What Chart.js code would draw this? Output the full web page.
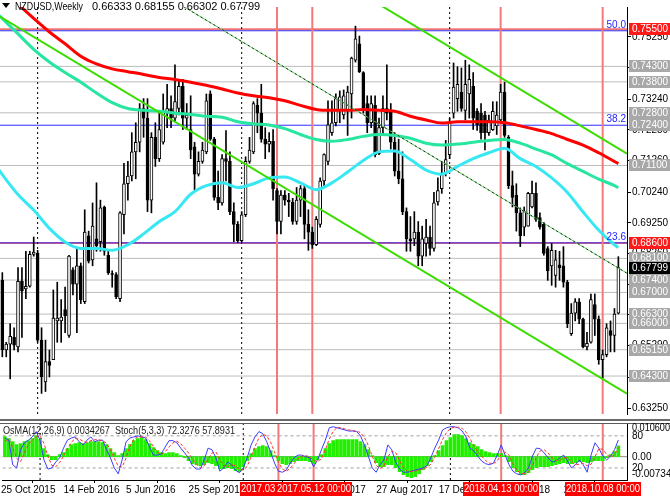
<!DOCTYPE html>
<html>
<head>
<meta charset="utf-8">
<script src="https://cdn.jsdelivr.net/npm/chart.js@4.4.1/dist/chart.umd.min.js"></script>
<style>
  html, body { margin: 0; padding: 0; background: #fff; }
  #wrap { position: relative; width: 670px; height: 498px; overflow: hidden; }
  canvas { position: absolute; left: 0; }
  #main { top: 0; }
  #osc { top: 421px; }
</style>
</head>
<body>
<div id="wrap">
  <canvas id="main" width="670" height="421"></canvas>
  <canvas id="osc" width="670" height="77"></canvas>
</div>
<script>
// NZDUSD weekly candles, week 1 = 1 Nov 2015 ... week 158 = 4 Nov 2018
const open = [0.6739,0.6514,0.6533,0.6555,0.6524,0.6736,0.6711,0.6720,0.6823,0.6826,
  0.6546,0.6411,0.6477,0.6483,0.6608,0.6608,0.6645,0.6561,0.6773,0.6727,
  0.6786,0.6670,0.6883,0.6805,0.6873,0.6864,0.6976,0.6820,0.6761,0.6758,
  0.6680,0.6951,0.7051,0.7076,0.7154,0.7185,0.7294,0.7263,0.6998,0.7201,
  0.7132,0.7185,0.7279,0.7294,0.7263,0.7294,0.7366,0.7263,0.7226,0.7170,
  0.7082,0.7123,0.7154,0.7341,0.7195,0.7007,0.6989,0.7132,0.7123,0.6961,
  0.6920,0.6867,0.6951,0.7123,0.7154,0.7304,0.7279,0.7195,0.7179,0.7188,
  0.7029,0.6929,0.7014,0.6998,0.6992,0.6929,0.6998,0.7035,0.6920,0.6895,
  0.6854,0.6920,0.7060,0.7123,0.7216,0.7248,0.7288,0.7273,0.7285,0.7341,
  0.7450,0.7503,0.7410,0.7310,0.7248,0.7304,0.7148,0.7232,0.7294,0.7285,
  0.7185,0.7092,0.7067,0.6961,0.6873,0.6873,0.6895,0.6817,0.6858,0.6879,
  0.6842,0.6992,0.7035,0.7085,0.7145,0.7279,0.7326,0.7347,0.7288,0.7341,
  0.7366,0.7285,0.7279,0.7273,0.7216,0.7226,0.7238,0.7257,0.7347,0.7201,
  0.7045,0.7014,0.6957,0.6911,0.6914,0.6976,0.7020,0.6942,0.6920,0.6842,
  0.6786,0.6755,0.6789,0.6786,0.6733,0.6567,0.6633,0.6670,0.6614,0.6524,
  0.6539,0.6661,0.6614,0.6483,0.6499,0.6577,0.6561,0.66333];
const high = [0.6764,0.6539,0.6599,0.6586,0.6780,0.6780,0.6833,0.6833,0.6879,0.6836,
  0.6586,0.6546,0.6514,0.6708,0.6733,0.6677,0.6717,0.6820,0.6780,0.6842,
  0.6795,0.6967,0.6898,0.6989,0.7054,0.6998,0.6979,0.6833,0.6770,0.6764,
  0.6961,0.7117,0.7123,0.7216,0.7248,0.7310,0.7326,0.7326,0.7216,0.7248,
  0.7279,0.7341,0.7372,0.7335,0.7435,0.7388,0.7388,0.7310,0.7335,0.7185,
  0.7154,0.7185,0.7341,0.7351,0.7201,0.7092,0.7145,0.7223,0.7154,0.6989,
  0.6929,0.6961,0.7138,0.7201,0.7316,0.7326,0.7372,0.7232,0.7216,0.7226,
  0.7035,0.7029,0.7029,0.7020,0.7004,0.7039,0.7045,0.7045,0.6967,0.6911,
  0.6945,0.7070,0.7148,0.7319,0.7319,0.7341,0.7351,0.7354,0.7366,0.7460,
  0.7560,0.7528,0.7413,0.7335,0.7335,0.7335,0.7263,0.7335,0.7435,0.7310,
  0.7216,0.7195,0.7154,0.6973,0.6945,0.6961,0.6929,0.6914,0.6936,0.6914,
  0.7023,0.7070,0.7123,0.7191,0.7263,0.7441,0.7429,0.7425,0.7450,0.7435,
  0.7410,0.7294,0.7310,0.7285,0.7273,0.7316,0.7316,0.7372,0.7379,0.7207,
  0.7092,0.7051,0.6973,0.6976,0.7023,0.7060,0.7054,0.6957,0.6926,0.6848,
  0.6858,0.6836,0.6833,0.6848,0.6739,0.6664,0.6680,0.6680,0.6617,0.6571,
  0.6695,0.6695,0.6624,0.6514,0.6599,0.6608,0.6648,0.68155];
const low = [0.6492,0.6492,0.6421,0.6514,0.6508,0.6555,0.6680,0.6717,0.6817,0.6539,
  0.6374,0.6380,0.6427,0.6483,0.6539,0.6539,0.6570,0.6555,0.6692,0.6570,
  0.6664,0.6664,0.6795,0.6786,0.6833,0.6833,0.6820,0.6758,0.6717,0.6680,
  0.6670,0.6889,0.6998,0.7060,0.7067,0.7154,0.7201,0.6961,0.6957,0.7107,
  0.7123,0.7179,0.7232,0.7232,0.7254,0.7273,0.7226,0.7226,0.7132,0.7029,
  0.7076,0.7117,0.7148,0.7191,0.6998,0.6967,0.6982,0.7060,0.6951,0.6864,
  0.6861,0.6864,0.6945,0.7117,0.7148,0.7216,0.7185,0.7132,0.7154,0.6998,
  0.6889,0.6889,0.6982,0.6945,0.6920,0.6920,0.6945,0.6873,0.6836,0.6842,
  0.6851,0.6911,0.7039,0.7113,0.7207,0.7238,0.7248,0.7260,0.7207,0.7263,
  0.7444,0.7410,0.7279,0.7216,0.7232,0.7138,0.7145,0.7207,0.7257,0.7163,
  0.7076,0.7051,0.6951,0.6833,0.6833,0.6851,0.6786,0.6786,0.6817,0.6820,
  0.6833,0.6982,0.7020,0.7076,0.7132,0.7263,0.7285,0.7285,0.7257,0.7263,
  0.7226,0.7223,0.7195,0.7160,0.7207,0.7223,0.7210,0.7254,0.7201,0.7035,
  0.6976,0.6898,0.6848,0.6883,0.6914,0.6973,0.6929,0.6904,0.6820,0.6739,
  0.6723,0.6717,0.6739,0.6717,0.6586,0.6561,0.6608,0.6599,0.6521,0.6514,
  0.6536,0.6561,0.6468,0.6424,0.6492,0.6508,0.6508,0.66302];
const close = [0.6514,0.6533,0.6558,0.6530,0.6736,0.6705,0.6720,0.6823,0.6830,0.6546,
  0.6427,0.6477,0.6464,0.6617,0.6617,0.6620,0.6624,0.6817,0.6727,0.6786,
  0.6677,0.6895,0.6801,0.6914,0.6851,0.6973,0.6833,0.6764,0.6758,0.6686,
  0.6957,0.7051,0.7076,0.7154,0.7185,0.7294,0.7263,0.6998,0.7201,0.7132,
  0.7226,0.7285,0.7294,0.7263,0.7316,0.7366,0.7263,0.7273,0.7160,0.7082,
  0.7123,0.7160,0.7319,0.7195,0.7007,0.6989,0.7132,0.7123,0.6961,0.6920,
  0.6867,0.6951,0.7123,0.7160,0.7310,0.7279,0.7195,0.7179,0.7188,0.7035,
  0.6929,0.7014,0.6998,0.6992,0.6929,0.6998,0.7035,0.6920,0.6895,0.6854,
  0.6936,0.7060,0.7145,0.7241,0.7248,0.7326,0.7332,0.7335,0.7347,0.7457,
  0.7519,0.7413,0.7288,0.7248,0.7310,0.7145,0.7232,0.7294,0.7279,0.7185,
  0.7092,0.7067,0.6961,0.6873,0.6867,0.6895,0.6817,0.6873,0.6879,0.6842,
  0.6989,0.7029,0.7085,0.7129,0.7248,0.7363,0.7372,0.7294,0.7372,0.7388,
  0.7263,0.7241,0.7216,0.7216,0.7257,0.7285,0.7273,0.7347,0.7207,0.7045,
  0.7007,0.6957,0.6883,0.6961,0.7020,0.7020,0.6936,0.6911,0.6826,0.6770,
  0.6836,0.6805,0.6780,0.6733,0.6599,0.6633,0.6670,0.6614,0.6524,0.6536,
  0.6677,0.6614,0.6483,0.6499,0.6586,0.6561,0.6630,0.67799];

// moving averages at these weeks
const maWeeks = [0,5,9,13,17,21,25,29,33,37,41,45,49,53,57,61,65,69,73,77,81,85,89,93,97,
  101,105,109,113,117,121,125,129,133,137,141,145,149,153,157,158];
const maRed = [0.7691,0.7631,0.7585,0.7541,0.7503,0.7463,0.7438,0.7422,0.7413,0.7404,0.7394,
  0.7388,0.7379,0.7369,0.7357,0.7344,0.7335,0.7329,0.7319,0.7304,0.7291,0.7288,0.7288,0.7291,
  0.7288,0.7285,0.7269,0.7257,0.7247,0.7251,0.7251,0.7251,0.7248,0.7238,0.7226,0.7213,0.7194,
  0.7176,0.7151,0.7123,0.7116];
const maTeal = [0.7597,0.7535,0.7485,0.7444,0.7410,0.7379,0.7344,0.7313,0.7294,0.7288,0.7285,
  0.7279,0.7275,0.7269,0.7266,0.7251,0.7244,0.7241,0.7229,0.7210,0.7194,0.7188,0.7194,0.7204,
  0.7210,0.7207,0.7198,0.7182,0.7176,0.7179,0.7185,0.7191,0.7194,0.7182,0.7163,0.7144,0.7116,
  0.7091,0.7066,0.7045,0.7038];
const maCyan = [0.7097,0.7016,0.6966,0.6907,0.6863,0.6842,0.6842,0.6836,0.6854,0.6889,0.6929,
  0.6961,0.7017,0.7045,0.7054,0.7039,0.7051,0.7070,0.7073,0.7054,0.7032,0.7054,0.7089,0.7126,
  0.7154,0.7157,0.7129,0.7095,0.7082,0.7107,0.7132,0.7151,0.7166,0.7132,0.7107,0.7070,0.7023,
  0.6960,0.6901,0.6854,0.6845];

// OsMA(12,26,9) and Stoch(5,3,3)
const osma = [0.0063,0.00567,0.00473,0.00378,0.0041,0.00473,0.00504,0.00567,0.00662,0.00536,
  0.00252,0.00063,-0.00095,-0.00095,0.00063,0.00126,0.00252,0.00378,0.0041,0.00441,
  0.0041,0.00441,0.00473,0.00473,0.00473,0.00441,0.00378,0.00252,0.00126,0.00032,
  0.00095,0.00252,0.00378,0.00504,0.00567,0.00599,0.00536,0.0041,0.00284,0.00189,
  0.00126,0.00095,0.00126,0.00126,0.00095,0.00032,-0.00032,-0.00126,-0.00221,-0.00252,
  -0.00284,-0.00252,-0.00189,-0.00221,-0.00284,-0.00378,-0.00378,-0.00347,-0.00378,-0.00441,
  -0.00473,-0.00315,-0.00126,0.00095,0.00252,0.00315,0.00347,0.00315,0.00189,0.00032,
  -0.00126,-0.00221,-0.00252,-0.00221,-0.00158,-0.00126,-0.00126,-0.00126,-0.00158,-0.00221,
  -0.00095,0.00063,0.00252,0.0041,0.00504,0.00536,0.00536,0.00536,0.00536,0.00536,
  0.00536,0.00473,0.00378,0.00221,0.00032,-0.00189,-0.00315,-0.00315,-0.00252,-0.00252,
  -0.00347,-0.00473,-0.00567,-0.0063,-0.00662,-0.0063,-0.00536,-0.0041,-0.00284,-0.00158,
  0.00032,0.00189,0.00347,0.00504,0.00599,0.00693,0.00693,0.00662,0.00567,0.00441,
  0.00378,0.00315,0.00221,0.00158,0.00126,0.00095,0.00095,0.00095,0.00032,-0.00158,
  -0.00347,-0.00473,-0.00567,-0.00567,-0.00504,-0.0041,-0.00347,-0.00315,-0.00315,-0.00315,
  -0.00284,-0.00252,-0.00221,-0.00189,-0.00221,-0.00221,-0.00189,-0.00158,-0.00158,-0.00189,
  -0.00158,-0.00126,-0.00126,-0.00126,-0.00032,0.00063,0.00158,0.0034267];
const stochMain = [76,72,26,20,54,67,72,78,88,72, 35,18,20,31,39,57,72,76,78,69,
  63,72,78,69,72,72,54,39,20,9, 35,69,76,78,80,78,76,59,44,44,
  46,59,71,71,67,57,48,39,24,18, 18,35,57,54,39,14,20,31,26,16,
  11,20,39,63,78,88,84,69,50,29, 14,12,16,29,39,44,44,41,39,22,
  35,54,72,95,97,95,93,91,89,89, 88,80,63,42,20,12,26,35,63,54,
  31,18,12,12,14,16,18,20,24,39, 57,72,91,95,97,97,95,89,78,57,
  52,42,33,28,26,29,44,63,44,26, 14,9,7,11,20,42,57,56,48,39,
  31,33,39,44,33,20,26,35,26,12, 44,67,57,42,35,42,54,72.3276];
const stochSignal = [70,74,58,38,32,48,64,72,79,80, 66,42,25,22,30,42,56,68,75,74,
  70,68,71,73,72,71,66,55,38,23, 22,38,60,74,78,78,78,71,60,50,
  45,50,59,67,70,65,57,48,37,27, 20,24,36,48,50,36,24,22,26,24,
  18,16,23,41,60,76,83,80,68,50, 31,18,14,19,28,37,42,43,41,34,
  32,37,54,74,88,96,95,93,91,90, 89,86,77,62,42,25,19,24,41,51,
  49,34,20,14,13,14,16,18,21,27, 40,56,73,86,94,96,96,94,87,75,
  62,50,42,34,29,28,33,45,50,44, 28,16,10,9,13,24,40,52,54,48,
  39,34,34,39,39,32,26,27,29,24, 27,41,56,55,45,40,44,57.8931];

// axis ticks and labels
const yTicks = [0.7525,0.7426,0.7324,0.7225,0.7126,0.7024,0.6925,0.6826,0.6727,0.6628,0.6529,0.6424,0.6325];
const xTickWeeks = [0,16,32,48,64,80,96,112,128,144];
const xTickLabels = ['25 Oct 2015','14 Feb 2016','5 Jun 2016','25 Sep 2016','15 Jan 2017',
  '7 May 2017','27 Aug 2017','17 Dec 2017','8 Apr 2018','29 Jul 2018'];

// objects on the chart
const grayLevels = [0.7430,0.7380,0.7280,0.7110,0.6810,0.6740,0.6700,0.6630,0.6600,0.6515,0.6430];
const redLevels = [0.7550,0.6860];
const fibLevels = [0.7545,0.7240,0.6860];
const fibNames = ['50.0','38.2','23.6'];
const boxLevels = [0.7550,0.7430,0.7380,0.7280,0.7240,0.7110,0.6860,0.6810,0.6740,0.6700,0.6630,0.6600,0.6515,0.6430];
const boxKinds = ['red','gray','gray','gray','gray','gray','red','gray','gray','gray','gray','gray','gray','gray'];
const lastClose = 0.67799;
const markerWeeks = [71,80,128,154];
const markerLabels = ['2017.03.06 00:00','2017.05.12 00:00','2018.04.13 00:00','2018.10.08 00:00'];
const sepWeeks = [10,62,115];
const channelLow = [[0.4,0.7591],[160.2,0.6373]];
const channelHigh = [[93,0.7661],[160.2,0.7148]];
const trendDashed = [[45,0.7640],[160.2,0.6762]];

const X_MIN = 0.408, X_MAX = 160.2;
const Y_MAX = 0.76218, Y_MIN = 0.63074;
const FONT = '"Liberation Sans", Arial, sans-serif';
Chart.defaults.font.family = FONT;

const weeks = open.map((v, i) => i + 1);
const hline = v => [{x: X_MIN, y: v}, {x: X_MAX, y: v}];
const vline = (w, lo, hi) => [{x: w, y: lo}, {x: w, y: hi}];
const seg = pts => pts.map(p => ({x: p[0], y: p[1]}));
const lineDs = (data, color, width, order, extra) => Object.assign({
  type: 'line', data, borderColor: color, borderWidth: width, pointRadius: 0, order, fill: false
}, extra || {});

const mainSets = [];
grayLevels.forEach(v => mainSets.push(lineDs(hline(v), '#bcbcbc', 1, 20)));
redLevels.forEach(v => mainSets.push(lineDs(hline(v), '#f07474', 2, 19)));
fibLevels.forEach(v => mainSets.push(lineDs(hline(v), '#2d2dff', 1, 18)));
markerWeeks.forEach(w => mainSets.push(lineDs(vline(w, Y_MIN, Y_MAX), '#f27a7a', 2, 17)));
sepWeeks.forEach(w => mainSets.push(lineDs(vline(w, Y_MIN, Y_MAX), '#000', 1, 16, {borderDash: [2, 3]})));
mainSets.push({
  type: 'bar', data: weeks.map((w, i) => ({x: w, y: [low[i], high[i]]})),
  backgroundColor: '#000', barThickness: 1, maxBarThickness: 1, grouped: false, order: 10
});
mainSets.push({
  type: 'bar', data: weeks.map((w, i) => ({x: w, y: [open[i], close[i]]})),
  backgroundColor: ctx => close[ctx.dataIndex] >= open[ctx.dataIndex] ? '#fff' : '#000',
  borderColor: '#000', borderWidth: 1, borderSkipped: false, minBarLength: 1,
  barThickness: 3, maxBarThickness: 3, grouped: false, order: 9
});
const maData = arr => maWeeks.map((w, i) => ({x: w, y: arr[i]}));
mainSets.push(lineDs(maData(maRed), '#ff0000', 3, 5, {cubicInterpolationMode: 'monotone'}));
mainSets.push(lineDs(maData(maTeal), '#26e6a0', 3, 5, {cubicInterpolationMode: 'monotone'}));
mainSets.push(lineDs(maData(maCyan), '#36e8f2', 3, 5, {cubicInterpolationMode: 'monotone'}));
mainSets.push(lineDs(seg(channelLow), '#3bdc00', 2, 3));
mainSets.push(lineDs(seg(channelHigh), '#3bdc00', 2, 3));
mainSets.push(lineDs(seg(trendDashed), '#55d055', 1, 2));
mainSets.push(lineDs(seg(trendDashed), '#222', 1, 1, {borderDash: [2, 3]}));

const mainDecor = {
  id: 'mainDecor',
  afterDraw(chart) {
    const ctx = chart.ctx, y = chart.scales.y;
    ctx.save();
    // title
    ctx.fillStyle = '#000';
    ctx.beginPath(); ctx.moveTo(2, 3); ctx.lineTo(10, 3); ctx.lineTo(6, 8); ctx.closePath(); ctx.fill();
    ctx.font = '11px ' + FONT;
    ctx.textAlign = 'left'; ctx.textBaseline = 'middle';
    ctx.fillText('NZDUSD,Weekly', 15, 7, 68);
    ctx.fillText('0.66333 0.68155 0.66302 0.67799', 92, 7, 171);
    // fibo level names
    ctx.font = '10px ' + FONT;
    ctx.fillStyle = '#2424ff'; ctx.textAlign = 'right'; ctx.textBaseline = 'bottom';
    fibLevels.forEach((v, i) => ctx.fillText(fibNames[i], 626, Math.round(y.getPixelForValue(v)) - 1));
    // price boxes on the right scale
    const box = (v, bg) => {
      const py = Math.round(y.getPixelForValue(v));
      ctx.fillStyle = bg;
      ctx.fillRect(629, py - 6, 41, 12);
      ctx.fillStyle = '#fff';
      ctx.textAlign = 'left'; ctx.textBaseline = 'middle';
      ctx.fillText(v.toFixed(5), 632, py, 36);
    };
    ctx.font = '10px ' + FONT;
    boxLevels.forEach((v, i) => box(v, boxKinds[i] === 'red' ? '#ff1a1a' : '#a8a8a8'));
    box(lastClose, '#000');
    // pane separator
    ctx.fillStyle = '#6a6a6a';
    ctx.fillRect(0, 419, 670, 2);
    ctx.restore();
  }
};

new Chart(document.getElementById('main'), {
  type: 'bar',
  data: {datasets: mainSets},
  options: {
    responsive: false, animation: false, devicePixelRatio: 1, events: [],
    layout: {padding: 0},
    plugins: {legend: {display: false}, tooltip: {enabled: false}},
    scales: {
      x: {type: 'linear', min: X_MIN, max: X_MAX, offset: false, display: false},
      y: {
        position: 'right', min: Y_MIN, max: Y_MAX,
        afterFit: s => { s.width = 43; },
        afterBuildTicks: s => { s.ticks = yTicks.map(v => ({value: v})); },
        ticks: {callback: v => v.toFixed(5), color: '#000', font: {size: 10}, padding: 1, autoSkip: false},
        grid: {drawOnChartArea: false, drawTicks: true, tickLength: 4, color: '#000'},
        border: {display: true, color: '#000', width: 1}
      }
    }
  },
  plugins: [mainDecor]
});

// ---------- oscillator pane ----------
const oscSets = [];
markerWeeks.forEach(w => oscSets.push(lineDs(vline(w, -2.5, 104), '#f27a7a', 2, 17, {yAxisID: 'ys'})));
sepWeeks.forEach(w => oscSets.push(lineDs(vline(w, -2.5, 104), '#000', 1, 16, {yAxisID: 'ys', borderDash: [2, 3]})));
oscSets.push(lineDs(hline(80), '#a0a0a0', 1, 15, {yAxisID: 'ys', borderDash: [3, 3]}));
oscSets.push(lineDs(hline(20), '#a0a0a0', 1, 15, {yAxisID: 'ys', borderDash: [3, 3]}));
oscSets.push(lineDs(hline(0), '#8a8a8a', 1, 14, {yAxisID: 'yo'}));
oscSets.push({
  type: 'bar', yAxisID: 'yo', data: weeks.map((w, i) => ({x: w, y: osma[i]})),
  backgroundColor: '#22ee00', barThickness: 3, maxBarThickness: 3, grouped: false, order: 8
});
oscSets.push(lineDs(weeks.map((w, i) => ({x: w, y: stochMain[i]})), '#3c3cff', 1, 2, {yAxisID: 'ys'}));
oscSets.push(lineDs(weeks.map((w, i) => ({x: w, y: stochSignal[i]})), '#ff3030', 1, 1, {yAxisID: 'ys', borderDash: [3, 2]}));

const oscDecor = {
  id: 'oscDecor',
  afterDraw(chart) {
    const ctx = chart.ctx, ys = chart.scales.ys, yo = chart.scales.yo, x = chart.scales.x;
    ctx.save();
    ctx.fillStyle = '#5a5a5a';
    ctx.fillRect(0, 2, 670, 1);
    ctx.font = '11px ' + FONT;
    ctx.fillStyle = '#222';
    ctx.textAlign = 'left'; ctx.textBaseline = 'middle';
    ctx.fillText('OsMA(12,26,9) 0.0034267  Stoch(5,3,3) 72.3276 57.8931', 3, 10, 232);
    ctx.font = '10px ' + FONT;
    ctx.fillStyle = '#000';
    ctx.fillText('0.010600', 632, 7, 38);
    ctx.fillText('80', 632, Math.round(ys.getPixelForValue(80)));
    ctx.fillText('0.00', 632, Math.round(yo.getPixelForValue(0)));
    ctx.fillText('20', 632, Math.round(ys.getPixelForValue(20)));
    ctx.fillText('-0.007344', 632, 53);
    // date flags of the vertical lines
    ctx.font = '10px ' + FONT;
    markerWeeks.forEach((w, i) => {
      const cx = Math.round(x.getPixelForValue(w));
      ctx.fillStyle = '#ff0000';
      ctx.fillRect(cx - 38, 61, 76, 14);
      ctx.fillStyle = '#fff';
      ctx.textAlign = 'center';
      ctx.fillText(markerLabels[i], cx, 68, 74);
    });
    ctx.restore();
  }
};

new Chart(document.getElementById('osc'), {
  type: 'bar',
  data: {datasets: oscSets},
  options: {
    responsive: false, animation: false, devicePixelRatio: 1, events: [],
    layout: {padding: {top: 2, left: 0, right: 0, bottom: 0}},
    plugins: {legend: {display: false}, tooltip: {enabled: false}},
    scales: {
      x: {
        type: 'linear', min: X_MIN, max: X_MAX, offset: false, position: 'bottom',
        afterFit: s => { s.height = 18; },
        afterBuildTicks: s => { s.ticks = xTickWeeks.map(v => ({value: v})); },
        ticks: {callback: (v, i) => xTickLabels[i], align: 'start', autoSkip: false, maxRotation: 0,
          color: '#000', font: {size: 10}, padding: 1},
        grid: {drawOnChartArea: false, drawTicks: true, tickLength: 3, color: '#000'},
        border: {display: true, color: '#000'}
      },
      yo: {
        position: 'right', min: -0.007344, max: 0.0106,
        afterFit: s => { s.width = 43; },
        ticks: {display: false}, grid: {display: false},
        border: {display: true, color: '#000'}
      },
      ys: {display: false, min: -2.5, max: 104}
    }
  },
  plugins: [oscDecor]
});
</script>
</body>
</html>
